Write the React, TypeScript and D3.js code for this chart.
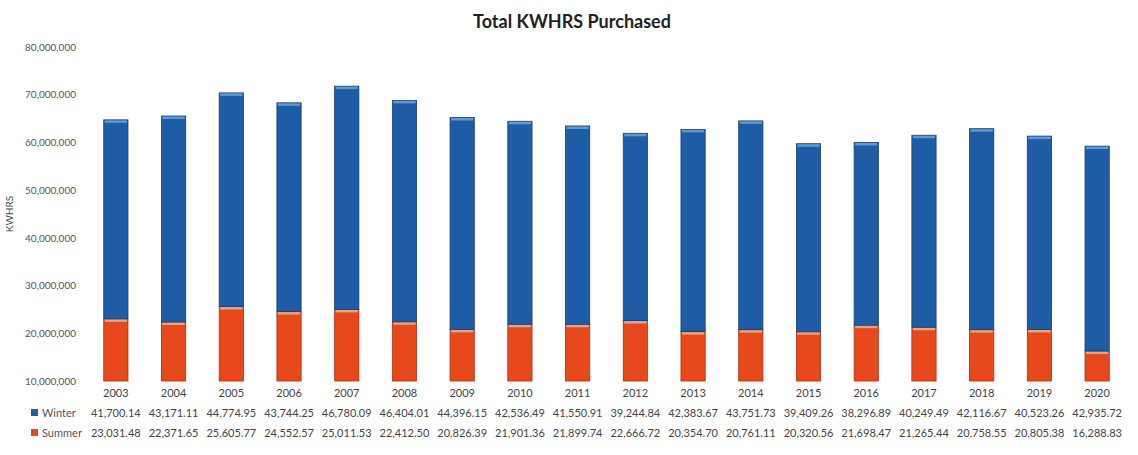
import { useEffect, useRef } from "react";
import * as d3 from "d3";

const years = ["2003", "2004", "2005", "2006", "2007", "2008", "2009", "2010", "2011", "2012", "2013", "2014", "2015", "2016", "2017", "2018", "2019", "2020"];
// values in thousands of KWHRS, as printed in the data table
const winter = [41700.14, 43171.11, 44774.95, 43744.25, 46780.09, 46404.01, 44396.15, 42536.49, 41550.91, 39244.84, 42383.67, 43751.73, 39409.26, 38296.89, 40249.49, 42116.67, 40523.26, 42935.72];
const summer = [23031.48, 22371.65, 25605.77, 24552.57, 25011.53, 22412.5, 20826.39, 21901.36, 21899.74, 22666.72, 20354.7, 20761.11, 20320.56, 21698.47, 21265.44, 20758.55, 20805.38, 16288.83];
const yTicks = [10000000, 20000000, 30000000, 40000000, 50000000, 60000000, 70000000, 80000000];

const W = 1138;
const H = 455;
const BLUE = "#1f5ca6";
const BLUE_EDGE = "#173f6f";
const ORANGE = "#e8491c";
const ORANGE_EDGE = "#a8331a";

export default function App() {
  const ref = useRef<SVGSVGElement>(null);

  useEffect(() => {
    if (!ref.current) return;
    const svg = d3.select(ref.current);
    svg.selectAll("*").remove();
    const margin = { top: 47, right: 12, bottom: 74, left: 87 };

    const x = d3
      .scaleBand()
      .domain(years)
      .range([margin.left, W - margin.right])
      .paddingInner(0.58)
      .paddingOuter(0.29);

    const y = d3
      .scaleLinear()
      .domain([10000000, 80000000])
      .range([H - margin.bottom, margin.top]);

    const font = "Lato, 'Open Sans', sans-serif";

    svg
      .append("text")
      .attr("x", 572)
      .attr("y", 28)
      .attr("text-anchor", "middle")
      .style("font-family", font)
      .style("font-size", "18px")
      .style("font-weight", "700")
      .style("fill", "#222")
      .text("Total KWHRS Purchased");

    const yAxis = svg
      .append("g")
      .attr("transform", `translate(${margin.left - 8},0)`)
      .call(
        d3
          .axisLeft(y)
          .tickValues(yTicks)
          .tickSize(0)
          .tickFormat((d) => d3.format(",")(d as number))
      );
    yAxis.select(".domain").remove();
    yAxis
      .selectAll("text")
      .style("font-family", font)
      .style("font-size", "10px")
      .style("fill", "#555");

    svg
      .append("text")
      .attr("transform", `translate(13,${(margin.top + H - margin.bottom) / 2}) rotate(-90)`)
      .attr("text-anchor", "middle")
      .style("font-family", font)
      .style("font-size", "10px")
      .style("fill", "#444")
      .text("KWHRS");

    const rows = years.map((yr, i) => ({ yr, s: summer[i] * 1000, w: winter[i] * 1000 }));
    const bw = x.bandwidth();
    const base = y(10000000);

    const g = svg.append("g");
    const bar = g
      .selectAll("g.bar")
      .data(rows)
      .enter()
      .append("g")
      .attr("class", "bar")
      .attr("transform", (d) => `translate(${x(d.yr)},0)`);

    // summer segment (bottom)
    bar
      .append("rect")
      .attr("width", bw)
      .attr("y", (d) => y(d.s))
      .attr("height", (d) => base - y(d.s))
      .attr("fill", ORANGE)
      .attr("stroke", ORANGE_EDGE)
      .attr("stroke-width", 0.8);
    bar
      .append("rect")
      .attr("x", 1)
      .attr("width", bw - 2)
      .attr("y", (d) => y(d.s) + 0.5)
      .attr("height", 2.5)
      .attr("fill", "#f6a070");

    // winter segment (top)
    bar
      .append("rect")
      .attr("width", bw)
      .attr("y", (d) => y(d.s + d.w))
      .attr("height", (d) => y(d.s) - y(d.s + d.w))
      .attr("fill", BLUE)
      .attr("stroke", BLUE_EDGE)
      .attr("stroke-width", 0.8);
    bar
      .append("rect")
      .attr("x", 1)
      .attr("width", bw - 2)
      .attr("y", (d) => y(d.s + d.w) + 0.5)
      .attr("height", 2.5)
      .attr("fill", "#5b9ad8");

    // data table under the chart
    const fmt = d3.format(",.2f");
    const cx = (yr: string) => (x(yr) ?? 0) + bw / 2;
    const tableText = (sel: d3.Selection<SVGTextElement, any, any, any>) =>
      sel
        .attr("text-anchor", "middle")
        .style("font-family", font)
        .style("font-size", "11px")
        .style("fill", "#444");

    g.selectAll("text.year")
      .data(years)
      .enter()
      .append("text")
      .attr("class", "year")
      .attr("x", (d) => cx(d))
      .attr("y", 397)
      .call(tableText)
      .text((d) => d);

    g.selectAll("text.win")
      .data(rows)
      .enter()
      .append("text")
      .attr("class", "win")
      .attr("x", (d) => cx(d.yr))
      .attr("y", 417)
      .call(tableText)
      .text((d) => fmt(d.w / 1000));

    g.selectAll("text.sum")
      .data(rows)
      .enter()
      .append("text")
      .attr("class", "sum")
      .attr("x", (d) => cx(d.yr))
      .attr("y", 437)
      .call(tableText)
      .text((d) => fmt(d.s / 1000));

    const legend = [
      { label: "Winter", color: BLUE, y: 413 },
      { label: "Summer", color: ORANGE, y: 433 },
    ];
    const lg = svg
      .selectAll("g.leg")
      .data(legend)
      .enter()
      .append("g")
      .attr("class", "leg");
    lg.append("rect")
      .attr("x", 31)
      .attr("y", (d) => d.y - 4)
      .attr("width", 7)
      .attr("height", 7)
      .attr("fill", (d) => d.color);
    lg.append("text")
      .attr("x", 42)
      .attr("y", (d) => d.y + 4)
      .style("font-family", font)
      .style("font-size", "11px")
      .style("fill", "#555")
      .text((d) => d.label);
  }, []);

  return (
    <svg
      ref={ref}
      width={W}
      height={H}
      style={{ position: "absolute", left: 0, top: 0, background: "#fff" }}
    />
  );
}
